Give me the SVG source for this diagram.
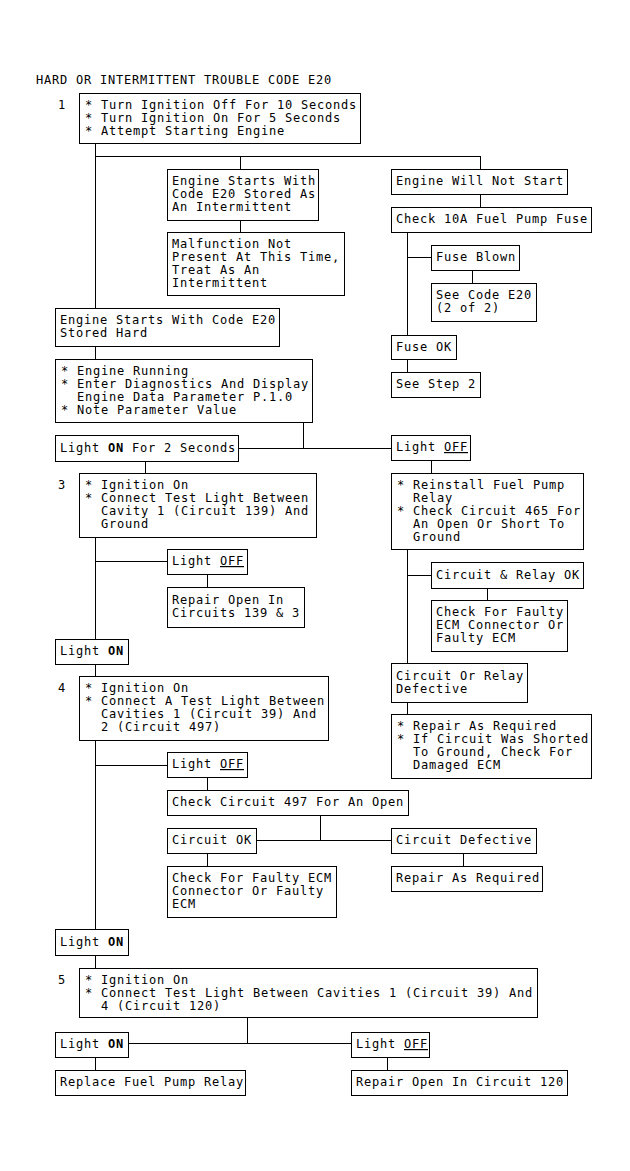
<svg xmlns="http://www.w3.org/2000/svg" width="630" height="1171" viewBox="0 0 630 1171">
<style>
text{font-family:"DejaVu Sans Mono","Liberation Mono",monospace;font-size:12px;letter-spacing:0.775px;fill:#000}
.bx{fill:#fff;stroke:#000;stroke-width:1;shape-rendering:crispEdges}
.cn{fill:none;stroke:#000;stroke-width:1;shape-rendering:crispEdges}
.bd{font-weight:bold}
.ul{text-decoration:underline}
</style>
<rect width="630" height="1171" fill="#fff"/>
<text x="36" y="84">HARD OR INTERMITTENT TROUBLE CODE E20</text>
<g id="connectors" class="cn">
<path d="M95.5 143V308"/>
<path d="M95.5 156.5H480.5"/>
<path d="M240.5 156V169"/>
<path d="M480.5 156V169"/>
<path d="M240.5 220V232"/>
<path d="M480.5 194V207"/>
<path d="M407.5 232V335"/>
<path d="M407 257.5H431"/>
<path d="M472.5 270V283"/>
<path d="M407.5 359V372"/>
<path d="M95.5 346V359"/>
<path d="M303.5 422V448.5"/>
<path d="M238 448.5H391"/>
<path d="M145.5 461V473"/>
<path d="M431.5 460V473"/>
<path d="M95.5 537V639"/>
<path d="M95 561.5H167"/>
<path d="M207.5 574V587"/>
<path d="M407.5 549V663"/>
<path d="M407 575.5H431"/>
<path d="M487.5 588V600"/>
<path d="M407.5 702V714"/>
<path d="M95.5 664V676"/>
<path d="M95.5 740V929"/>
<path d="M95 765.5H167"/>
<path d="M207.5 777V790"/>
<path d="M320.5 815V841"/>
<path d="M256 840.5H391"/>
<path d="M207.5 853V866"/>
<path d="M463.5 853V866"/>
<path d="M95.5 955V968"/>
<path d="M247.5 1017V1043"/>
<path d="M128 1043.5H351"/>
<path d="M95.5 1057V1070"/>
<path d="M387.5 1057V1070"/>
</g>
<g id="n1"><text x="58" y="109">1</text><rect class="bx" x="79.5" y="93.5" width="281" height="50"/><text x="85" y="109">* Turn Ignition Off For 10 Seconds</text><text x="85" y="122">* Turn Ignition On For 5 Seconds</text><text x="85" y="135">* Attempt Starting Engine</text></g>
<g id="n2"><rect class="bx" x="167.5" y="169.5" width="151" height="51"/><text x="172" y="185">Engine Starts With</text><text x="172" y="198">Code E20 Stored As</text><text x="172" y="211">An Intermittent</text></g>
<g id="n3"><rect class="bx" x="167.5" y="232.5" width="177" height="63"/><text x="172" y="248">Malfunction Not</text><text x="172" y="261">Present At This Time,</text><text x="172" y="274">Treat As An</text><text x="172" y="287">Intermittent</text></g>
<g id="n4"><rect class="bx" x="391.5" y="169.5" width="176" height="25"/><text x="396" y="185">Engine Will Not Start</text></g>
<g id="n5"><rect class="bx" x="391.5" y="207.5" width="200" height="25"/><text x="396" y="223">Check 10A Fuel Pump Fuse</text></g>
<g id="n6"><rect class="bx" x="431.5" y="245.5" width="88" height="25"/><text x="436" y="261">Fuse Blown</text></g>
<g id="n7"><rect class="bx" x="431.5" y="283.5" width="105" height="38"/><text x="436" y="299">See Code E20</text><text x="436" y="312">(2 of 2)</text></g>
<g id="n8"><rect class="bx" x="391.5" y="335.5" width="65" height="24"/><text x="396" y="351">Fuse OK</text></g>
<g id="n9"><rect class="bx" x="391.5" y="372.5" width="89" height="25"/><text x="396" y="388">See Step 2</text></g>
<g id="n10"><rect class="bx" x="55.5" y="308.5" width="224" height="38"/><text x="60" y="324">Engine Starts With Code E20</text><text x="60" y="337">Stored Hard</text></g>
<g id="n11"><rect class="bx" x="55.5" y="359.5" width="257" height="63"/><text x="61" y="375">* Engine Running</text><text x="61" y="388">* Enter Diagnostics And Display</text><text x="77" y="401">Engine Data Parameter P.1.0</text><text x="61" y="414">* Note Parameter Value</text></g>
<g id="n12"><rect class="bx" x="55.5" y="435.5" width="183" height="26"/><text x="60" y="452">Light <tspan class="bd">ON</tspan> For 2 Seconds</text></g>
<g id="n13"><rect class="bx" x="391.5" y="435.5" width="79" height="25"/><text x="396" y="451">Light <tspan class="ul">OFF</tspan></text></g>
<g id="n14"><text x="58" y="489">3</text><rect class="bx" x="79.5" y="473.5" width="237" height="64"/><text x="85" y="489">* Ignition On</text><text x="85" y="502">* Connect Test Light Between</text><text x="101" y="515">Cavity 1 (Circuit 139) And</text><text x="101" y="528">Ground</text></g>
<g id="n15"><rect class="bx" x="391.5" y="473.5" width="192" height="76"/><text x="397" y="489">* Reinstall Fuel Pump</text><text x="413" y="502">Relay</text><text x="397" y="515">* Check Circuit 465 For</text><text x="413" y="528">An Open Or Short To</text><text x="413" y="541">Ground</text></g>
<g id="n16"><rect class="bx" x="167.5" y="549.5" width="80" height="25"/><text x="172" y="565">Light <tspan class="ul">OFF</tspan></text></g>
<g id="n17"><rect class="bx" x="167.5" y="587.5" width="137" height="40"/><text x="172" y="604">Repair Open In</text><text x="172" y="617">Circuits 139 &amp; 3</text></g>
<g id="n18"><rect class="bx" x="55.5" y="639.5" width="73" height="25"/><text x="60" y="655">Light <tspan class="bd">ON</tspan></text></g>
<g id="n19"><rect class="bx" x="431.5" y="562.5" width="152" height="26"/><text x="436" y="579">Circuit &amp; Relay OK</text></g>
<g id="n20"><rect class="bx" x="431.5" y="600.5" width="136" height="51"/><text x="436" y="616">Check For Faulty</text><text x="436" y="629">ECM Connector Or</text><text x="436" y="642">Faulty ECM</text></g>
<g id="n21"><rect class="bx" x="391.5" y="663.5" width="136" height="39"/><text x="396" y="680">Circuit Or Relay</text><text x="396" y="693">Defective</text></g>
<g id="n22"><rect class="bx" x="391.5" y="714.5" width="200" height="64"/><text x="397" y="730">* Repair As Required</text><text x="397" y="743">* If Circuit Was Shorted</text><text x="413" y="756">To Ground, Check For</text><text x="413" y="769">Damaged ECM</text></g>
<g id="n23"><text x="58" y="692">4</text><rect class="bx" x="79.5" y="676.5" width="249" height="64"/><text x="85" y="692">* Ignition On</text><text x="85" y="705">* Connect A Test Light Between</text><text x="101" y="718">Cavities 1 (Circuit 39) And</text><text x="101" y="731">2 (Circuit 497)</text></g>
<g id="n24"><rect class="bx" x="167.5" y="752.5" width="80" height="25"/><text x="172" y="768">Light <tspan class="ul">OFF</tspan></text></g>
<g id="n25"><rect class="bx" x="167.5" y="790.5" width="241" height="25"/><text x="172" y="806">Check Circuit 497 For An Open</text></g>
<g id="n26"><rect class="bx" x="167.5" y="828.5" width="89" height="25"/><text x="172" y="844">Circuit OK</text></g>
<g id="n27"><rect class="bx" x="391.5" y="828.5" width="145" height="25"/><text x="396" y="844">Circuit Defective</text></g>
<g id="n28"><rect class="bx" x="167.5" y="866.5" width="169" height="51"/><text x="172" y="882">Check For Faulty ECM</text><text x="172" y="895">Connector Or Faulty</text><text x="172" y="908">ECM</text></g>
<g id="n29"><rect class="bx" x="391.5" y="866.5" width="151" height="25"/><text x="396" y="882">Repair As Required</text></g>
<g id="n30"><rect class="bx" x="55.5" y="929.5" width="73" height="26"/><text x="60" y="946">Light <tspan class="bd">ON</tspan></text></g>
<g id="n31"><text x="58" y="984">5</text><rect class="bx" x="79.5" y="968.5" width="458" height="49"/><text x="85" y="984">* Ignition On</text><text x="85" y="997">* Connect Test Light Between Cavities 1 (Circuit 39) And</text><text x="101" y="1010">4 (Circuit 120)</text></g>
<g id="n32"><rect class="bx" x="55.5" y="1032.5" width="73" height="25"/><text x="60" y="1048">Light <tspan class="bd">ON</tspan></text></g>
<g id="n33"><rect class="bx" x="351.5" y="1032.5" width="78" height="25"/><text x="356" y="1048">Light <tspan class="ul">OFF</tspan></text></g>
<g id="n34"><rect class="bx" x="55.5" y="1070.5" width="190" height="25"/><text x="60" y="1086">Replace Fuel Pump Relay</text></g>
<g id="n35"><rect class="bx" x="351.5" y="1070.5" width="216" height="25"/><text x="356" y="1086">Repair Open In Circuit 120</text></g>
</svg>
